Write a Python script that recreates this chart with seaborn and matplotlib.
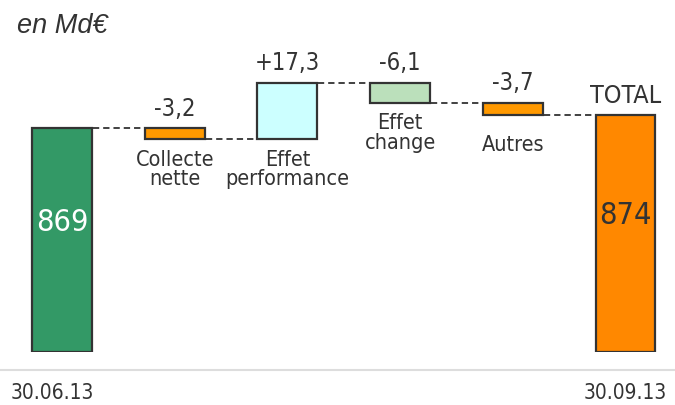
import numpy as np
import pandas as pd
import seaborn as sns
import matplotlib.pyplot as plt
from matplotlib.lines import Line2D

# waterfall data (Md€)
steps = ['start', 'Collecte\nnette', 'Effet\nperformance', 'Effet\nchange', 'Autres', 'TOTAL']
start_value = 869
deltas = [-3.2, 17.3, -6.1, -3.7]
end_label = '874'
dates = ['30.06.13', '30.09.13']
colors = ['#339966', '#FF9900', '#CCFFFF', '#BBE0BB', '#FF9900', '#FF8800']

floor = 800  # axis break, bars of totals start here

sns.set_theme(style='white')
plt.rcParams['font.family'] = ['Noto Sans ExtraCondensed', 'Noto Sans Condensed',
                               'DejaVu Sans Condensed', 'DejaVu Sans']
plt.rcParams['font.stretch'] = 'condensed'
dark = '#333333'

# running levels
levels = [start_value]
for d in deltas:
    levels.append(levels[-1] + d)
lows = [floor] + [min(levels[i], levels[i + 1]) for i in range(len(deltas))] + [floor]
highs = [start_value] + [max(levels[i], levels[i + 1]) for i in range(len(deltas))] + [levels[-1]]

df = pd.DataFrame({'step': steps, 'low': lows, 'high': highs})

fig = plt.figure(figsize=(6.75, 4.05), dpi=100)
ax = fig.add_axes([0, 53 / 405, 1, 352 / 405])

sns.barplot(data=df, x='step', y='high', hue='step', palette=colors, legend=False,
            width=0.53, saturation=1, edgecolor=dark, linewidth=1.6, ax=ax)

# make the bars float
for patch, lo, hi in zip(ax.patches, df['low'], df['high']):
    patch.set_y(lo)
    patch.set_height(hi - lo)
    patch.set_zorder(3)

ax.set_ylim(floor, floor + 352 / 3.24)
ax.set_xlim(-0.55, 5.44)
ax.axis('off')

# dashed connectors
for i, lvl in enumerate(levels):
    ax.plot([i, i + 1], [lvl, lvl], ls=(0, (3.5, 2.2)), color=dark, lw=1.3, zorder=2)

# value labels above the floating bars
for i, d in enumerate(deltas, start=1):
    ax.annotate(f'{d:+.1f}'.replace('.', ','), (i, highs[i]),
                xytext=(0, 9), textcoords='offset points', ha='center', va='baseline',
                fontsize=17, color=dark)
    ax.annotate(steps[i], (i, lows[i]), xytext=(0, -22), textcoords='offset points',
                ha='center', va='center', fontsize=15.5, color=dark, linespacing=0.95)

ax.annotate('TOTAL', (5, highs[5]), xytext=(0, 8), textcoords='offset points',
            ha='center', va='baseline', fontsize=18, color=dark)

# values inside the total bars
ax.annotate(str(start_value), (0, (floor + highs[0]) / 2), xytext=(0, 13),
            textcoords='offset points', ha='center', va='center', fontsize=22, color='white')
ax.annotate(end_label, (5, (floor + highs[5]) / 2), xytext=(0, 13),
            textcoords='offset points', ha='center', va='center', fontsize=22, color=dark)

# dates under the axis
ax.annotate(dates[0], (0, floor), xytext=(-37, -34), textcoords='offset points',
            ha='left', va='baseline', fontsize=15, color=dark, annotation_clip=False)
ax.annotate(dates[1], (5, floor), xytext=(30, -34), textcoords='offset points',
            ha='right', va='baseline', fontsize=15, color=dark, annotation_clip=False)

fig.add_artist(Line2D([0, 1], [35 / 405, 35 / 405], color='#DDDDDD', lw=1.5,
                      transform=fig.transFigure))

fig.text(17 / 675, 1 - 33 / 405, 'en Md€', fontsize=19.5, style='italic', color=dark,
         family=['Liberation Sans', 'DejaVu Sans'], stretch='normal',
         va='baseline', ha='left')

fig.savefig('out.png', dpi=100)
